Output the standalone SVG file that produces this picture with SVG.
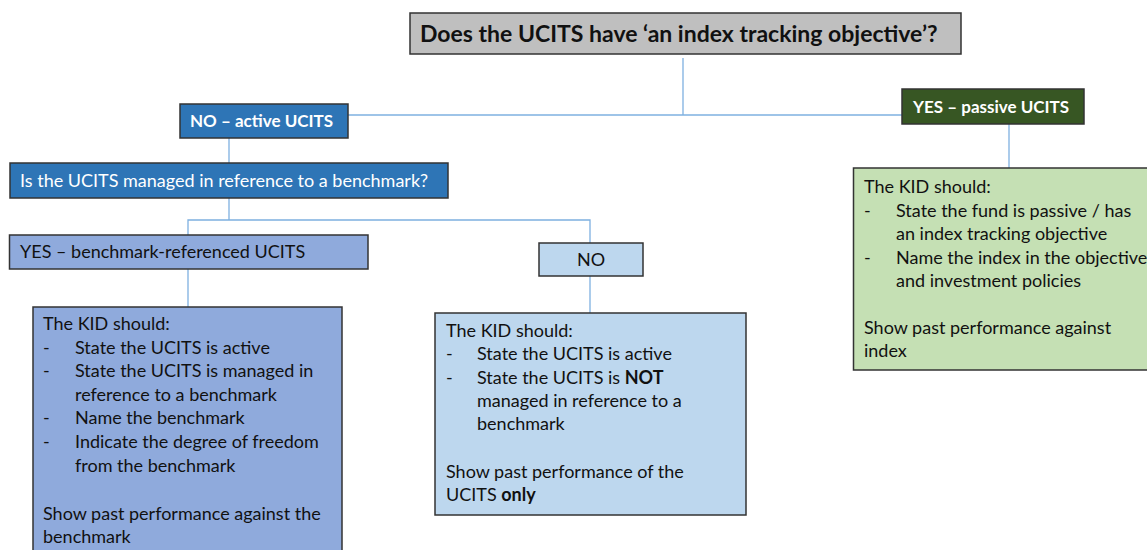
<svg xmlns="http://www.w3.org/2000/svg" width="1147" height="550" viewBox="0 0 1147 550">
<style>
.box{stroke:#333;stroke-width:1.5}
.t{font-family:Lato,"Liberation Sans",sans-serif;font-size:18px;fill:#111}
.s{font-size:17px}
.w{fill:#fff}
.b{font-weight:bold}
.c{fill:none;stroke:#7eb0e0;stroke-width:1.3}
</style>
<rect width="1147" height="550" fill="#fff"/>
<g id="connectors">
<polyline class="c" points="683,58 683,115"/>
<polyline class="c" points="348,115 902,115"/>
<polyline class="c" points="1009,124 1009,168"/>
<polyline class="c" points="229,138 229,163"/>
<polyline class="c" points="229,198 229,220"/>
<polyline class="c" points="188,235 188,220 590,220 590,243"/>
<polyline class="c" points="188,269 188,307"/>
<polyline class="c" points="590,276 590,313"/>
</g>
<g id="title">
<rect class="box" x="410" y="13" width="551" height="41" fill="#bfbfbf"/>
<text class="t b" x="420" y="42" style="font-size:23px">Does the UCITS have ‘an index tracking objective’?</text>
</g>
<g id="no-active">
<rect class="box" x="180" y="104" width="168" height="34" fill="#2e75b6"/>
<text class="t s w b" x="190" y="127">NO – active UCITS</text>
</g>
<g id="yes-passive">
<rect class="box" x="902" y="89" width="182" height="35" fill="#375623"/>
<text class="t s w b" x="913" y="113">YES – passive UCITS</text>
</g>
<g id="passive-kid">
<rect class="box" x="853.5" y="168" width="310" height="202" fill="#c5e0b4"/>
<text class="t" x="864" y="193">The KID should:</text>
<text class="t" x="864" y="217">-</text>
<text class="t" x="896" y="217">State the fund is passive / has</text>
<text class="t" x="896" y="240">an index tracking objective</text>
<text class="t" x="864" y="264">-</text>
<text class="t" x="896" y="264">Name the index in the objective</text>
<text class="t" x="896" y="287">and investment policies</text>
<text class="t" x="864" y="334">Show past performance against</text>
<text class="t" x="864" y="357">index</text>
</g>
<g id="question">
<rect class="box" x="10" y="163" width="438" height="35" fill="#2e75b6"/>
<text class="t w" x="20" y="187">Is the UCITS managed in reference to a benchmark?</text>
</g>
<g id="yes-benchmark">
<rect class="box" x="9.5" y="235" width="358.5" height="34" fill="#8faadc"/>
<text class="t" x="20" y="258">YES – benchmark-referenced UCITS</text>
</g>
<g id="no-benchmark">
<rect class="box" x="539" y="243" width="104" height="33" fill="#bdd7ee"/>
<text class="t" x="591" y="266" text-anchor="middle">NO</text>
</g>
<g id="benchmark-kid">
<rect class="box" x="33" y="307" width="309" height="250" fill="#8faadc"/>
<text class="t" x="43" y="330">The KID should:</text>
<text class="t" x="43" y="354">-</text>
<text class="t" x="75" y="354">State the UCITS is active</text>
<text class="t" x="43" y="377">-</text>
<text class="t" x="75" y="377">State the UCITS is managed in</text>
<text class="t" x="75" y="401">reference to a benchmark</text>
<text class="t" x="43" y="424">-</text>
<text class="t" x="75" y="424">Name the benchmark</text>
<text class="t" x="43" y="448">-</text>
<text class="t" x="75" y="448">Indicate the degree of freedom</text>
<text class="t" x="75" y="472">from the benchmark</text>
<text class="t" x="43" y="520">Show past performance against the</text>
<text class="t" x="43" y="543">benchmark</text>
</g>
<g id="active-kid">
<rect class="box" x="435" y="313" width="311" height="202" fill="#bdd7ee"/>
<text class="t" x="446" y="337">The KID should:</text>
<text class="t" x="446" y="360">-</text>
<text class="t" x="477" y="360">State the UCITS is active</text>
<text class="t" x="446" y="384">-</text>
<text class="t" x="477" y="384">State the UCITS is <tspan class="b">NOT</tspan></text>
<text class="t" x="477" y="407">managed in reference to a</text>
<text class="t" x="477" y="430">benchmark</text>
<text class="t" x="446" y="478">Show past performance of the</text>
<text class="t" x="446" y="501">UCITS <tspan class="b">only</tspan></text>
</g>
</svg>
